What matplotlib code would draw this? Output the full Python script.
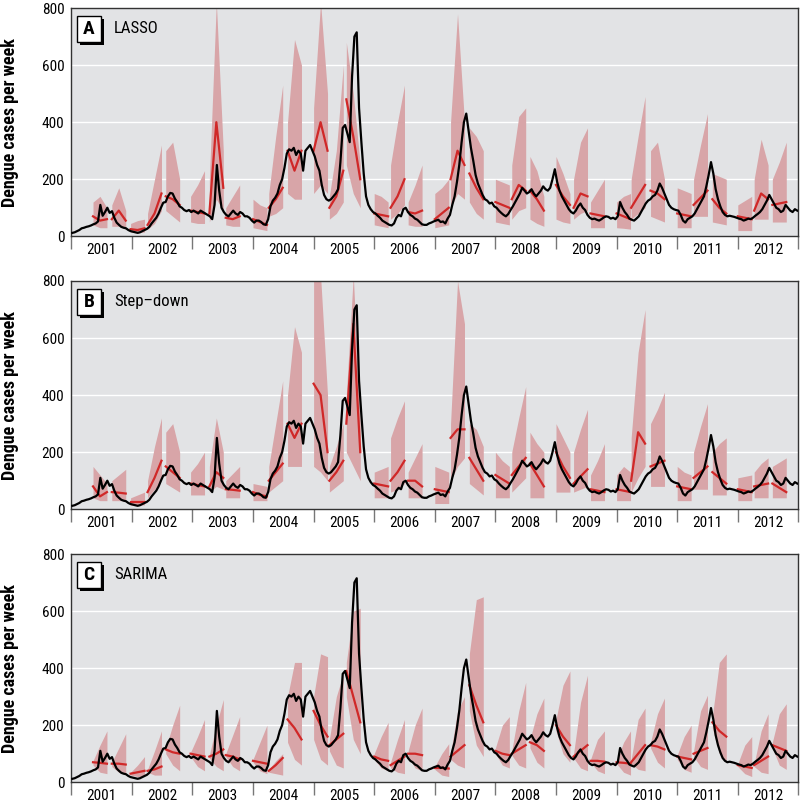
import matplotlib
matplotlib.use("Agg")
import matplotlib.pyplot as plt
import numpy as np
from matplotlib.patches import Rectangle
from matplotlib import font_manager

# observed weekly cases, read every two weeks (26 values per year)
obs_2001 = [12, 14, 18, 22, 28, 30, 33, 35, 38, 42, 45, 52, 110, 72, 85, 100, 82, 88, 65, 48, 40, 33, 30, 28, 22, 18]
obs_2002 = [16, 14, 12, 14, 18, 22, 26, 33, 45, 55, 65, 80, 100, 118, 120, 140, 152, 150, 132, 120, 105, 100, 92, 88, 92, 85]
obs_2003 = [90, 85, 80, 90, 85, 80, 75, 70, 60, 110, 250, 160, 100, 85, 75, 70, 80, 90, 80, 75, 85, 80, 70, 70, 65, 55]
obs_2004 = [48, 55, 55, 50, 42, 40, 60, 105, 125, 135, 150, 180, 200, 240, 290, 305, 300, 310, 285, 300, 290, 230, 300, 310, 320, 300]
obs_2005 = [280, 250, 230, 180, 145, 130, 125, 130, 140, 150, 165, 260, 380, 390, 360, 330, 560, 700, 715, 450, 330, 220, 140, 110, 95, 85]
obs_2006 = [80, 72, 65, 55, 50, 45, 40, 38, 45, 65, 75, 70, 95, 100, 85, 75, 70, 62, 58, 50, 42, 40, 40, 45, 48, 52]
obs_2007 = [55, 58, 50, 52, 45, 62, 75, 110, 140, 190, 250, 330, 400, 430, 370, 310, 265, 215, 185, 165, 145, 130, 125, 115, 118, 105]
obs_2008 = [100, 90, 82, 75, 70, 78, 92, 105, 120, 135, 150, 170, 160, 150, 155, 165, 150, 140, 150, 160, 175, 165, 160, 170, 200, 235]
obs_2009 = [190, 160, 140, 125, 110, 95, 85, 80, 90, 105, 115, 100, 92, 75, 65, 60, 62, 58, 55, 60, 66, 70, 68, 62, 65, 60]
obs_2010 = [70, 120, 100, 85, 75, 62, 58, 55, 62, 70, 85, 100, 115, 125, 130, 140, 145, 160, 185, 170, 150, 130, 110, 100, 95, 92]
obs_2011 = [90, 75, 55, 48, 60, 65, 70, 80, 95, 110, 125, 140, 175, 215, 260, 220, 165, 130, 105, 85, 75, 70, 72, 70, 68, 65]
obs_2012 = [62, 60, 55, 58, 62, 60, 65, 72, 78, 85, 95, 110, 125, 145, 130, 115, 100, 95, 85, 90, 110, 100, 90, 85, 95, 90]
observed = [obs_2001, obs_2002, obs_2003, obs_2004, obs_2005, obs_2006,
            obs_2007, obs_2008, obs_2009, obs_2010, obs_2011, obs_2012]
years = list(range(2001, 2013))

# forecast windows (start, in years); each forecast covers about 12 weeks
seg_start = [2001.36, 2001.67,
             2001.98, 2002.26, 2002.56,
             2002.97, 2003.28, 2003.55,
             2004.00, 2004.26, 2004.57,
             2005.00, 2005.26, 2005.54,
             2006.00, 2006.27, 2006.56,
             2007.00, 2007.26, 2007.57,
             2008.00, 2008.27, 2008.57,
             2009.00, 2009.29, 2009.57,
             2010.00, 2010.24, 2010.56,
             2011.00, 2011.27, 2011.58,
             2012.00, 2012.27, 2012.57]
seg_len = 0.23

# forecast (start, middle, end) and the 95% band for each window
lasso_red = [[70, 55, 60], [60, 90, 55],
             [25, 22, 28], [40, 80, 150], [140, 130, 110],
             [90, 85, 80], [80, 400, 170], [65, 60, 70],
             [60, 50, 40], [100, 130, 170], [300, 230, 300],
             [300, 400, 300], [100, 140, 230], [480, 350, 200],
             [80, 75, 70], [100, 140, 200], [85, 80, 90],
             [60, 80, 100], [200, 300, 250], [220, 170, 130],
             [120, 110, 100], [130, 180, 160], [160, 130, 90],
             [180, 140, 110], [100, 150, 140], [80, 75, 70],
             [80, 70, 60], [100, 140, 180], [160, 150, 130],
             [80, 75, 70], [110, 135, 160], [130, 100, 80],
             [70, 65, 60], [90, 150, 130], [110, 115, 120]]
lasso_hi = [[120, 140, 100], [110, 170, 90],
            [45, 55, 60], [80, 200, 320], [300, 330, 200],
            [140, 180, 230], [200, 820, 300], [100, 140, 180],
            [130, 110, 100], [150, 350, 530], [400, 690, 600],
            [450, 820, 500], [140, 300, 600], [680, 500, 250],
            [150, 140, 120], [250, 400, 530], [120, 180, 250],
            [150, 170, 200], [400, 780, 400], [380, 350, 300],
            [200, 190, 180], [250, 420, 450], [280, 230, 140],
            [280, 220, 150], [200, 330, 380], [120, 160, 200],
            [120, 140, 150], [200, 350, 490], [300, 330, 200],
            [170, 160, 150], [200, 320, 430], [220, 210, 200],
            [110, 125, 140], [200, 340, 250], [200, 260, 330]]
lasso_lo = [[40, 30, 30], [35, 35, 25],
            [15, 12, 15], [25, 45, 90], [90, 70, 50],
            [50, 45, 45], [50, 130, 90], [40, 35, 35],
            [30, 25, 20], [70, 80, 100], [150, 130, 130],
            [150, 180, 150], [60, 80, 120], [250, 150, 100],
            [40, 35, 30], [60, 80, 110], [40, 35, 35],
            [30, 35, 40], [100, 150, 130], [120, 80, 60],
            [50, 45, 40], [60, 90, 100], [60, 45, 35],
            [60, 50, 45], [60, 80, 90], [30, 30, 30],
            [30, 28, 25], [60, 80, 100], [70, 60, 50],
            [30, 30, 30], [70, 70, 70], [50, 45, 40],
            [20, 20, 20], [60, 60, 60], [50, 50, 50]]

step_red = [[80, 45, 60], [60, 58, 55],
            [25, 25, 25], [60, 110, 170], [150, 130, 110],
            [90, 85, 80], [80, 130, 110], [70, 68, 65],
            [60, 50, 45], [100, 130, 160], [300, 250, 300],
            [440, 400, 200], [100, 130, 170], [300, 650, 200],
            [90, 85, 80], [100, 130, 170], [100, 100, 80],
            [70, 65, 60], [250, 280, 280], [180, 140, 100],
            [120, 105, 90], [120, 150, 180], [160, 120, 80],
            [200, 150, 110], [90, 115, 140], [70, 65, 60],
            [70, 65, 60], [100, 270, 230], [150, 160, 170],
            [80, 75, 70], [110, 130, 150], [130, 110, 90],
            [70, 65, 60], [80, 85, 90], [90, 75, 60]]
step_hi = [[150, 120, 90], [100, 120, 140],
           [40, 50, 60], [100, 220, 320], [270, 300, 200],
           [130, 160, 200], [150, 320, 200], [100, 125, 150],
           [90, 85, 80], [150, 300, 450], [400, 640, 550],
           [820, 820, 400], [150, 220, 300], [400, 820, 300],
           [130, 140, 150], [250, 320, 380], [130, 180, 230],
           [150, 140, 130], [300, 800, 650], [300, 280, 220],
           [200, 170, 150], [200, 320, 430], [270, 230, 200],
           [300, 250, 200], [200, 280, 350], [120, 170, 230],
           [120, 150, 130], [250, 550, 700], [300, 350, 410],
           [150, 130, 120], [200, 290, 370], [200, 230, 250],
           [110, 115, 120], [130, 160, 180], [150, 165, 180]]
step_lo = [[40, 30, 30], [30, 30, 30],
           [15, 15, 15], [40, 70, 100], [90, 75, 60],
           [50, 50, 50], [60, 80, 70], [40, 40, 40],
           [30, 30, 30], [60, 80, 100], [150, 150, 150],
           [150, 130, 100], [60, 80, 100], [200, 150, 100],
           [40, 40, 40], [60, 70, 90], [40, 40, 40],
           [20, 20, 20], [100, 150, 180], [90, 70, 50],
           [40, 40, 40], [60, 85, 110], [40, 40, 40],
           [60, 60, 60], [60, 70, 80], [30, 30, 30],
           [30, 30, 30], [60, 110, 150], [80, 80, 80],
           [30, 30, 30], [70, 70, 70], [50, 50, 50],
           [30, 30, 30], [40, 40, 40], [40, 40, 40]]

sarima_red = [[70, 68, 65], [65, 65, 62],
              [30, 35, 40], [40, 45, 55], [115, 105, 100],
              [100, 95, 90], [90, 100, 115], [95, 90, 80],
              [75, 70, 65], [40, 60, 85], [220, 190, 150],
              [250, 200, 160], [130, 150, 170], [390, 300, 210],
              [90, 80, 75], [60, 75, 90], [100, 100, 95],
              [50, 50, 48], [90, 110, 130], [340, 270, 210],
              [110, 100, 95], [100, 115, 130], [140, 130, 110],
              [200, 160, 130], [90, 110, 130], [75, 75, 72],
              [70, 68, 65], [70, 100, 130], [130, 125, 115],
              [90, 85, 80], [100, 110, 120], [210, 180, 160],
              [60, 55, 50], [60, 75, 90], [130, 120, 110]]
sarima_hi = [[75, 130, 180], [70, 120, 170],
             [35, 60, 90], [45, 110, 180], [120, 200, 270],
             [105, 160, 220], [95, 200, 290], [100, 165, 230],
             [80, 140, 200], [45, 75, 100], [300, 420, 420],
             [300, 450, 440], [150, 300, 380], [420, 600, 610],
             [100, 160, 210], [70, 150, 220], [110, 200, 260],
             [55, 100, 135], [100, 250, 300], [450, 640, 650],
             [120, 200, 230], [110, 250, 350], [150, 240, 295],
             [220, 340, 390], [100, 280, 375], [80, 150, 180],
             [75, 140, 180], [80, 220, 260], [140, 240, 295],
             [95, 160, 200], [110, 250, 305], [230, 420, 450],
             [65, 130, 160], [65, 180, 240], [140, 240, 275]]
sarima_lo = [[60, 35, 30], [55, 35, 30],
             [25, 20, 20], [35, 25, 25], [100, 60, 40],
             [90, 55, 40], [85, 55, 40], [90, 55, 40],
             [70, 40, 30], [35, 30, 25], [140, 80, 60],
             [150, 80, 60], [110, 60, 50], [300, 150, 100],
             [80, 50, 40], [50, 35, 30], [90, 50, 40],
             [45, 25, 20], [80, 60, 50], [250, 130, 90],
             [100, 60, 50], [95, 60, 50], [120, 70, 50],
             [180, 100, 70], [85, 50, 40], [70, 40, 30],
             [65, 35, 25], [65, 45, 40], [120, 70, 50],
             [80, 45, 35], [90, 55, 45], [190, 100, 70],
             [55, 30, 20], [55, 35, 30], [120, 60, 45]]

panels = [("A", "LASSO", lasso_red, lasso_hi, lasso_lo),
          ("B", "Step\u2013down", step_red, step_hi, step_lo),
          ("C", "SARIMA", sarima_red, sarima_hi, sarima_lo)]

# a narrow face if one is installed, else plain DejaVu at smaller sizes
names = {f.name for f in font_manager.fontManager.ttflist}
narrow = None
for cand in ["Liberation Sans Narrow", "Roboto Condensed", "Open Sans Condensed",
             "DejaVu Sans Condensed", "Noto Sans Condensed"]:
    if cand in names:
        narrow = cand
        break
if narrow:
    plt.rcParams["font.family"] = [narrow, "DejaVu Sans"]
    fs_lab, fs_tick, fs_name, fs_letter = 13, 11, 12, 14
else:
    plt.rcParams["font.family"] = ["DejaVu Sans"]
    fs_lab, fs_tick, fs_name, fs_letter = 11, 9.5, 11, 13

bg = "#e2e3e5"
band_col = "#d8a5a8"
red_col = "#d02828"

fig = plt.figure(figsize=(8.0, 8.07), dpi=100)
tops = [0.990, 0.6518, 0.3135]
height = 0.2828

obs_t = np.concatenate([y + (np.arange(26) + 0.5) / 26 for y in years])
obs_v = np.concatenate(observed)

for (letter, name, red, hi, lo), top in zip(panels, tops):
    ax = fig.add_axes([0.089, top - height, 0.909, height])
    ax.set_facecolor(bg)
    for yy in (200, 400, 600):
        ax.axhline(yy, color="white", lw=1.0, zorder=1)

    for t0, r, h, l in zip(seg_start, red, hi, lo):
        tt = t0 + np.array([0, 0.5, 1.0]) * seg_len
        ax.fill_between(tt, l, h, color=band_col, lw=0, zorder=2)
        ax.plot(tt, r, color=red_col, lw=1.6, zorder=3)

    ax.plot(obs_t, obs_v, color="black", lw=1.6, zorder=4)

    ax.set_xlim(2001, 2013)
    ax.set_ylim(0, 800)
    ax.set_yticks([0, 200, 400, 600, 800])
    ax.tick_params(axis="y", length=0, labelsize=fs_tick, pad=5)
    ax.set_xticks(range(2001, 2014))
    ax.set_xticklabels([])
    ax.set_xticks([y + 0.5 for y in years], minor=True)
    ax.set_xticklabels([str(y) for y in years], minor=True)
    ax.tick_params(axis="x", which="major", length=9, color="#777777", width=1)
    ax.tick_params(axis="x", which="minor", length=0, labelsize=fs_tick, pad=5)
    for s in ax.spines.values():
        s.set_color("#333333")
        s.set_linewidth(1.0)
    ax.set_ylabel("Dengue cases per week", fontsize=fs_lab, fontweight="bold", labelpad=16)

    # boxed panel letter with drop shadow
    ax.add_patch(Rectangle((0.012, 0.838), 0.033, 0.114, transform=ax.transAxes,
                           facecolor="black", edgecolor="none", zorder=6, clip_on=False))
    ax.add_patch(Rectangle((0.008, 0.851), 0.033, 0.114, transform=ax.transAxes,
                           facecolor="white", edgecolor="black", lw=1, zorder=7, clip_on=False))
    ax.text(0.0245, 0.908, letter, transform=ax.transAxes, ha="center", va="center",
            fontsize=fs_letter, fontweight="bold", zorder=8)
    ax.text(0.059, 0.912, name, transform=ax.transAxes, ha="left", va="center",
            fontsize=fs_name, zorder=8)

fig.savefig("out.png", dpi=100)
